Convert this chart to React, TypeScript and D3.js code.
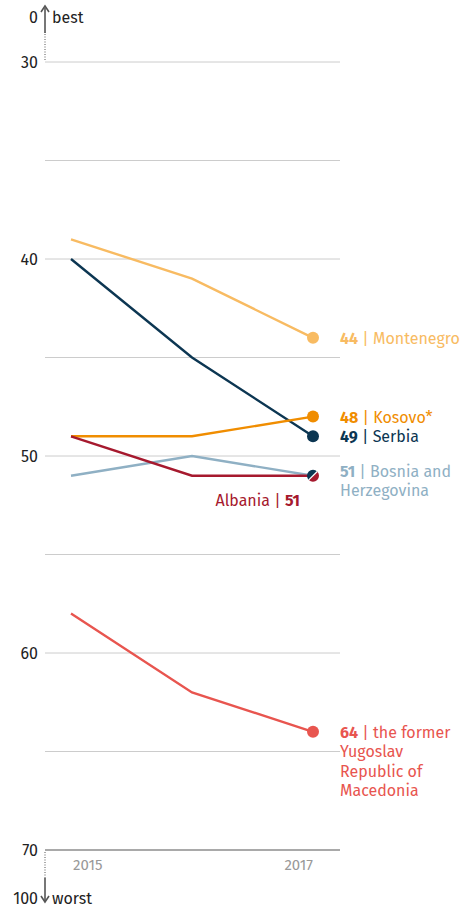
import React from "react";
import * as d3 from "d3";

const years = [2015, 2016, 2017];
const countries = ["Montenegro", "Serbia", "Kosovo*", "Bosnia", "Albania", "Macedonia"];
const montenegro = [39, 41, 44];
const serbia = [40, 45, 49];
const kosovo = [49, 49, 48];
const bosnia = [51, 50, 51];
const albania = [49, 51, 51];
const macedonia = [58, 62, 64];
const yTicks = [30, 40, 50, 60, 70];
const gridValues = [30, 35, 40, 45, 50, 55, 60, 65];
const yearLabels = ["2015", "2017"];

const W = 463;
const H = 909;
const FONT = "'Fira Sans', Lato, 'Open Sans', sans-serif";

export default function App() {
  const x = d3.scaleLinear().domain([2015, 2017]).range([71, 313]);
  const y = d3.scaleLinear().domain([30, 70]).range([62, 850]);
  const line = d3
    .line<[number, number]>()
    .x((d) => x(d[0]))
    .y((d) => y(d[1]));

  const series = [
    { name: countries[0], values: montenegro, color: "#f8bb62" },
    { name: countries[1], values: serbia, color: "#0c3652" },
    { name: countries[2], values: kosovo, color: "#f08d00" },
    { name: countries[3], values: bosnia, color: "#8fb0c4" },
    { name: countries[4], values: albania, color: "#a6192e" },
    { name: countries[5], values: macedonia, color: "#e8554f" },
  ];
  const pts = (v: number[]) => v.map((d, i) => [years[i], d] as [number, number]);

  const labelX = 340;
  const fs = 16;
  const lh = 19.5;
  const last = (v: number[]) => v[v.length - 1];

  const label = (
    value: number,
    lines: string[],
    color: string,
    key: string,
    dy0 = 0
  ) => (
    <text key={key} x={labelX} y={y(value) + dy0} fill={color} fontSize={fs} fontFamily={FONT} dominantBaseline="central">
      <tspan fontWeight="bold">{value}</tspan>
      <tspan> | {lines[0]}</tspan>
      {lines.slice(1).map((l, i) => (
        <tspan key={i} x={labelX} dy={lh}>
          {l}
        </tspan>
      ))}
    </text>
  );

  const ax = 45;
  const cx = x(2017);
  const cy = y(51);
  const r = 6;
  const a = Math.PI / 4;
  const p1 = [cx + r * Math.cos(-a), cy + r * Math.sin(-a)];
  const p2 = [cx - r * Math.cos(-a), cy - r * Math.sin(-a)];

  return (
    <svg width={W} height={H} style={{ position: "absolute", left: 0, top: 0, display: "block" }}>
      <rect width={W} height={H} fill="#fff" />
      {gridValues.map((g) => (
        <line key={g} x1={ax} x2={340} y1={y(g)} y2={y(g)} stroke="#cccccc" strokeWidth={1} />
      ))}
      <line x1={ax} x2={340} y1={y(70)} y2={y(70)} stroke="#555" strokeWidth={1.2} />
      {yTicks.map((t) => (
        <text key={t} x={38} y={y(t)} textAnchor="end" dominantBaseline="central" fontSize={16} fontFamily={FONT} fill="#222">
          {t}
        </text>
      ))}
      {/* top arrow */}
      <line x1={ax} x2={ax} y1={y(30) - 2} y2={32} stroke="#555" strokeWidth={1} strokeDasharray="1,1.5" />
      <line x1={ax} x2={ax} y1={33} y2={8} stroke="#555" strokeWidth={1.6} />
      <path d={`M${ax - 4},${12} L${ax},${6} L${ax + 4},${12}`} fill="none" stroke="#555" strokeWidth={1.6} />
      <text x={38} y={17} textAnchor="end" dominantBaseline="central" fontSize={16} fontFamily={FONT} fill="#222">0</text>
      <text x={52} y={17} dominantBaseline="central" fontSize={16} fontFamily={FONT} fill="#222">best</text>
      {/* bottom arrow */}
      <line x1={ax} x2={ax} y1={y(70) + 2} y2={878} stroke="#555" strokeWidth={1} strokeDasharray="1,1.5" />
      <line x1={ax} x2={ax} y1={878} y2={902} stroke="#555" strokeWidth={1.6} />
      <path d={`M${ax - 4},${896} L${ax},${902} L${ax + 4},${896}`} fill="none" stroke="#555" strokeWidth={1.6} />
      <text x={38} y={898} textAnchor="end" dominantBaseline="central" fontSize={16} fontFamily={FONT} fill="#222">100</text>
      <text x={52} y={898} dominantBaseline="central" fontSize={16} fontFamily={FONT} fill="#222">worst</text>
      {yearLabels.map((yl, i) => (
        <text
          key={yl}
          x={x(+yl) + (i === 0 ? 2 : 0)}
          y={865}
          textAnchor={i === 0 ? "start" : "end"}
          dominantBaseline="central"
          fontSize={15}
          fontFamily={FONT}
          fill="#999"
        >
          {yl}
        </text>
      ))}
      {series.map((s) => (
        <path key={s.name} d={line(pts(s.values)) || ""} fill="none" stroke={s.color} strokeWidth={2.4} />
      ))}
      {series
        .filter((s) => s.name !== "Bosnia" && s.name !== "Albania")
        .map((s) => (
          <circle key={s.name} cx={x(2017)} cy={y(last(s.values))} r={r} fill={s.color} />
        ))}
      {/* split circle for Albania / Bosnia */}
      <path d={`M${p1[0]},${p1[1]} A${r},${r} 0 0 1 ${p2[0]},${p2[1]} Z`} fill="#a6192e" />
      <path d={`M${p2[0]},${p2[1]} A${r},${r} 0 0 1 ${p1[0]},${p1[1]} Z`} fill="#0c3652" />
      <line x1={p1[0]} y1={p1[1]} x2={p2[0]} y2={p2[1]} stroke="#fff" strokeWidth={1.2} />
      {label(last(montenegro), ["Montenegro"], "#f8bb62", "m")}
      {label(last(kosovo), ["Kosovo*"], "#f08d00", "k")}
      {label(last(serbia), ["Serbia"], "#0c3652", "s")}
      {label(last(bosnia), ["Bosnia and", "Herzegovina"], "#8fb0c4", "b", -5)}
      {label(last(macedonia), ["the former", "Yugoslav", "Republic of", "Macedonia"], "#e8554f", "mk")}
      <text x={300} y={y(last(albania)) + 24} textAnchor="end" dominantBaseline="central" fontSize={fs} fontFamily={FONT} fill="#a6192e">
        <tspan>Albania | </tspan>
        <tspan fontWeight="bold">{last(albania)}</tspan>
      </text>
    </svg>
  );
}
